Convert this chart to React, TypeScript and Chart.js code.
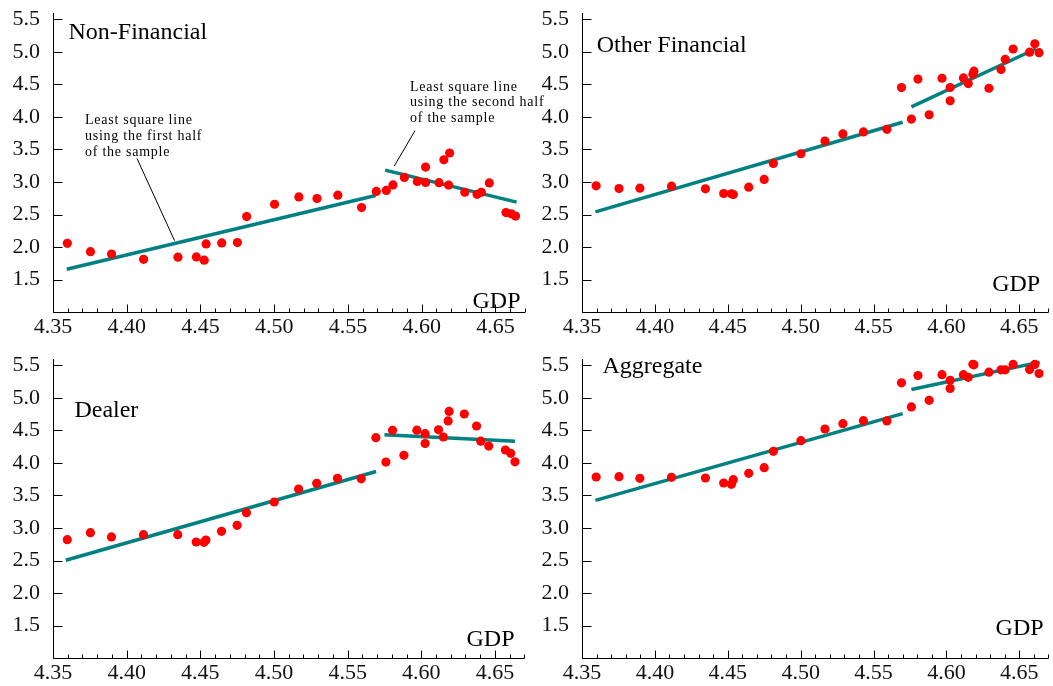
import React, { useEffect, useRef } from "react";
import { Chart, registerables } from "chart.js";

Chart.register(...registerables);

// log GDP (shared x values)
const gdp = [
  4.3597, 4.3754, 4.3897, 4.4114, 4.4347, 4.4472, 4.4525, 4.4538, 4.4644, 4.475,
  4.4813, 4.5002, 4.5167, 4.529, 4.5431, 4.5592, 4.5692, 4.576, 4.5805, 4.5882,
  4.597, 4.6026, 4.6026, 4.6117, 4.615, 4.6182, 4.6189, 4.6292, 4.6375, 4.6404,
  4.6458, 4.6571, 4.6607, 4.6636,
];

const nonFinancial = [
  2.056, 1.928, 1.892, 1.81, 1.843, 1.848, 1.797, 2.047, 2.062, 2.068,
  2.468, 2.658, 2.771, 2.746, 2.797, 2.607, 2.855, 2.87, 2.955, 3.07,
  3.009, 3.23, 2.994, 2.989, 3.342, 2.952, 3.446, 2.842, 2.811, 2.841,
  2.986, 2.53, 2.51, 2.476,
];

const otherFinancial = [
  2.941, 2.9, 2.905, 2.936, 2.895, 2.823, 2.818, 2.808, 2.921, 3.039,
  3.286, 3.435, 3.631, 3.739, 3.77, 3.81, 4.452, 3.968, 4.583, 4.035,
  4.596, 4.454, 4.249, 4.601, 4.514, 4.656, 4.705, 4.442, 4.732, 4.887,
  5.046, 4.997, 5.126, 4.99,
];

const dealer = [
  2.82, 2.928, 2.862, 2.897, 2.897, 2.785, 2.78, 2.815, 2.949, 3.041,
  3.236, 3.4, 3.6, 3.687, 3.764, 3.757, 4.39, 4.015, 4.503, 4.118,
  4.505, 4.451, 4.3, 4.51, 4.4, 4.648, 4.793, 4.754, 4.569, 4.336,
  4.26, 4.2, 4.149, 4.018,
];

const aggregate = [
  3.785, 3.79, 3.764, 3.779, 3.769, 3.692, 3.672, 3.744, 3.841, 3.928,
  4.179, 4.344, 4.523, 4.605, 4.651, 4.648, 5.234, 4.862, 5.346, 4.964,
  5.359, 5.272, 5.146, 5.359, 5.318, 5.518, 5.51, 5.398, 5.433, 5.433,
  5.516, 5.438, 5.516, 5.377,
];

// least-squares fit segments: [x, y] endpoints (first half / second half)
const nfFirstHalf = [[4.3593, 1.658], [4.5687, 2.792]];
const nfSecondHalf = [[4.5752, 3.183], [4.6643, 2.69]];
const ofFirstHalf = [[4.3592, 2.54], [4.57, 3.92]];
const ofSecondHalf = [[4.576, 4.155], [4.6615, 5.05]];
const dlFirstHalf = [[4.3587, 2.503], [4.5693, 3.87]];
const dlSecondHalf = [[4.575, 4.436], [4.6637, 4.333]];
const agFirstHalf = [[4.3592, 3.426], [4.57, 4.76]];
const agSecondHalf = [[4.576, 5.13], [4.664, 5.552]];

const xTickValues = [4.35, 4.4, 4.45, 4.5, 4.55, 4.6, 4.65];
const yTickValues = [1.5, 2.0, 2.5, 3.0, 3.5, 4.0, 4.5, 5.0, 5.5];
const xMin = 4.35;
const xMax = 4.67;
const yMin = 1.0;
const yMax = 5.6;

const FONT = '"Liberation Serif", "Times New Roman", serif';
const TEAL = "#008080";
const RED = "#ff0000";

type Note = { lines: string[]; x: number; y: number; leader: [number, number, number, number] };

type PanelProps = {
  left: number;
  top: number;
  width: number;
  height: number;
  padRight: number;
  axisBottom: number;
  title: string;
  titleX: number;
  titleY: number;
  gdpRight: number;
  gdpY: number;
  values: number[];
  firstHalf: number[][];
  secondHalf: number[][];
  notes?: Note[];
};

function Panel(p: PanelProps) {
  const ref = useRef<HTMLCanvasElement | null>(null);

  useEffect(() => {
    const canvas = ref.current;
    if (!canvas) return;

    const decor = {
      id: "decor",
      beforeDatasetsDraw(chart: any) {
        const ctx = chart.ctx;
        const { left, right, top, bottom } = chart.chartArea;
        const xs = chart.scales.x;
        const ys = chart.scales.y;
        ctx.save();
        ctx.strokeStyle = "#000";
        ctx.lineWidth = 1;
        ctx.beginPath();
        const ax = Math.round(left) + 0.5;
        const ay = Math.round(bottom) + 0.5;
        ctx.moveTo(ax, top);
        ctx.lineTo(ax, ay);
        ctx.lineTo(right, ay);
        for (const v of yTickValues) {
          const py = Math.round(ys.getPixelForValue(v)) + 0.5;
          ctx.moveTo(ax, py);
          ctx.lineTo(ax + 9, py);
        }
        for (let i = 0; i <= 32; i++) {
          const v = xMin + i * 0.01;
          if (v > xMax + 1e-9) break;
          const px = Math.round(xs.getPixelForValue(v)) + 0.5;
          const len = i % 5 === 0 ? 8 : 4;
          ctx.moveTo(px, ay);
          ctx.lineTo(px, ay - len);
        }
        ctx.stroke();
        ctx.restore();
      },
      afterDraw(chart: any) {
        const ctx = chart.ctx;
        ctx.save();
        ctx.fillStyle = "#000";
        ctx.textBaseline = "alphabetic";
        ctx.textAlign = "left";
        ctx.font = `24px ${FONT}`;
        ctx.fillText(p.title, p.titleX, p.titleY);
        ctx.textAlign = "right";
        ctx.fillText("GDP", p.gdpRight, p.gdpY);
        if (p.notes) {
          ctx.textAlign = "left";
          ctx.font = `14px ${FONT}`;
          try {
            (ctx as any).letterSpacing = "0.75px";
          } catch (e) {}
          for (const n of p.notes) {
            n.lines.forEach((s, i) => ctx.fillText(s, n.x, n.y + i * 15.7));
            ctx.beginPath();
            ctx.strokeStyle = "#000";
            ctx.lineWidth = 1;
            ctx.moveTo(n.leader[0], n.leader[1]);
            ctx.lineTo(n.leader[2], n.leader[3]);
            ctx.stroke();
          }
          try {
            (ctx as any).letterSpacing = "0px";
          } catch (e) {}
        }
        ctx.restore();
      },
    };

    const points = gdp.map((x, i) => ({ x, y: p.values[i] }));
    const seg = (s: number[][]) => s.map(([x, y]) => ({ x, y }));

    const noPad = (s: any) => {
      s.paddingTop = 0;
      s.paddingBottom = 0;
      s.paddingLeft = 0;
      s.paddingRight = 0;
    };

    const chart = new Chart(canvas, {
      type: "scatter",
      data: {
        datasets: [
          {
            type: "scatter",
            data: points,
            pointRadius: 4.6,
            pointBackgroundColor: RED,
            pointBorderWidth: 0,
            order: 0,
          },
          {
            type: "line",
            data: seg(p.firstHalf),
            borderColor: TEAL,
            borderWidth: 3.5,
            pointRadius: 0,
            showLine: true,
            fill: false,
            order: 1,
          },
          {
            type: "line",
            data: seg(p.secondHalf),
            borderColor: TEAL,
            borderWidth: 3.5,
            pointRadius: 0,
            showLine: true,
            fill: false,
            order: 1,
          },
        ],
      } as any,
      options: {
        animation: false,
        responsive: false,
        events: [],
        layout: { padding: { top: 13, right: p.padRight, left: 0, bottom: 0 } },
        plugins: { legend: { display: false }, tooltip: { enabled: false } },
        scales: {
          x: {
            type: "linear",
            min: xMin,
            max: xMax,
            grid: { display: false, drawTicks: false },
            border: { display: false },
            afterBuildTicks: (s: any) => {
              s.ticks = xTickValues.map((v) => ({ value: v }));
            },
            afterFit: (s: any) => {
              s.height = p.height - p.axisBottom;
              noPad(s);
            },
            ticks: {
              autoSkip: false,
              maxRotation: 0,
              padding: 2,
              color: "#111",
              font: { family: FONT, size: 22 },
              callback: (v: any) => Number(v).toFixed(2),
            },
          },
          y: {
            type: "linear",
            min: yMin,
            max: yMax,
            grid: { display: false, drawTicks: false },
            border: { display: false },
            afterBuildTicks: (s: any) => {
              s.ticks = yTickValues.map((v) => ({ value: v }));
            },
            afterFit: (s: any) => {
              s.width = 53;
              noPad(s);
            },
            ticks: {
              autoSkip: false,
              padding: 13,
              color: "#111",
              font: { family: FONT, size: 22 },
              callback: (v: any) => Number(v).toFixed(1),
            },
          },
        },
      } as any,
      plugins: [decor],
    });
    return () => chart.destroy();
  }, []);

  return (
    <canvas
      ref={ref}
      width={p.width}
      height={p.height}
      style={{ position: "absolute", left: p.left, top: p.top, width: p.width, height: p.height }}
    />
  );
}

export default function App() {
  const nfNotes: Note[] = [
    {
      lines: ["Least square line", "using the first half", "of the sample"],
      x: 85,
      y: 124.3,
      leader: [137, 158.5, 174.5, 240.5],
    },
    {
      lines: ["Least square line", "using the second half", "of the sample"],
      x: 410,
      y: 90.7,
      leader: [415, 130.7, 394.3, 166],
    },
  ];
  return (
    <div style={{ position: "absolute", left: 0, top: 0, width: 1053, height: 686, background: "#fff", overflow: "hidden" }}>
      <Panel
        left={0}
        top={0}
        width={560}
        height={346}
        padRight={35}
        axisBottom={312}
        title="Non-Financial"
        titleX={68.5}
        titleY={39.3}
        gdpRight={520.5}
        gdpY={308.3}
        values={nonFinancial}
        firstHalf={nfFirstHalf}
        secondHalf={nfSecondHalf}
        notes={nfNotes}
      />
      <Panel
        left={529}
        top={0}
        width={524}
        height={346}
        padRight={0}
        axisBottom={312}
        title="Other Financial"
        titleX={67.7}
        titleY={52.3}
        gdpRight={511.2}
        gdpY={290.7}
        values={otherFinancial}
        firstHalf={ofFirstHalf}
        secondHalf={ofSecondHalf}
      />
      <Panel
        left={0}
        top={346}
        width={529}
        height={340}
        padRight={4}
        axisBottom={312}
        title="Dealer"
        titleX={74.4}
        titleY={71.3}
        gdpRight={514.5}
        gdpY={300}
        values={dealer}
        firstHalf={dlFirstHalf}
        secondHalf={dlSecondHalf}
      />
      <Panel
        left={529}
        top={346}
        width={524}
        height={340}
        padRight={0}
        axisBottom={312}
        title="Aggregate"
        titleX={73.4}
        titleY={27.3}
        gdpRight={514.6}
        gdpY={289}
        values={aggregate}
        firstHalf={agFirstHalf}
        secondHalf={agSecondHalf}
      />
    </div>
  );
}
